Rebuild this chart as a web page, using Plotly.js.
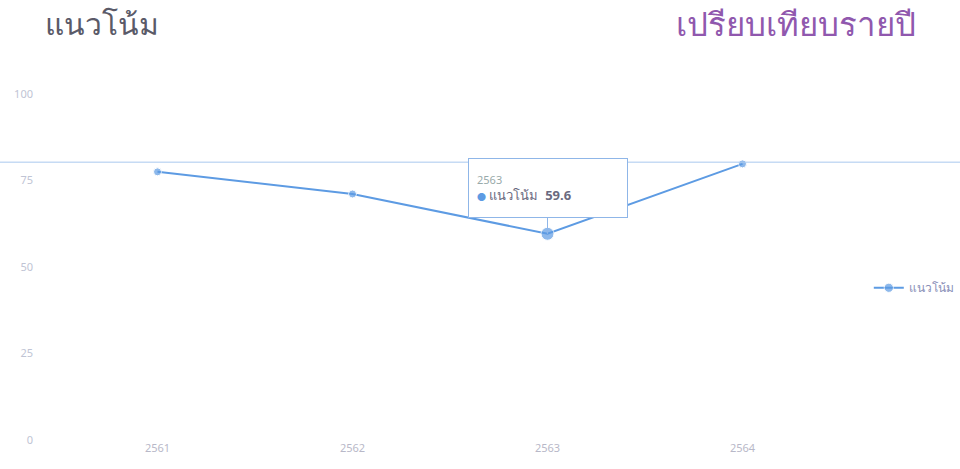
<!DOCTYPE html>
<html>
<head>
<meta charset="utf-8">
<script src="https://cdn.plot.ly/plotly-3.0.1.min.js"></script>
<style>html,body{margin:0;padding:0;background:#fff;overflow:hidden;}#chart{width:960px;height:469px;}</style>
</head>
<body>
<div id="chart"></div>
<script>
const years = ['2561', '2562', '2563', '2564'];
const trendValues = [77.5, 71.1, 59.6, 79.8];
const seriesName = 'แนวโน้ม';
const targetValue = 80.3;
const yTicks = [0, 25, 50, 75, 100];
const hoverYear = '2563';
const leftTitle = 'แนวโน้ม';
const rightTitle = 'เปรียบเทียบรายปี';

const hoverIdx = years.indexOf(hoverYear);
const lineColor = '#5d9be3';
const thaiFont = '"Noto Sans", "Noto Sans CJK SC", "DejaVu Sans", sans-serif';

const trace = {
  x: years,
  y: trendValues,
  type: 'scatter',
  mode: 'lines+markers',
  name: seriesName,
  line: {color: lineColor, width: 2},
  marker: {color: lineColor, size: years.map((y, i) => i === hoverIdx ? 13 : 8)},
  hoverinfo: 'none'
};

const layout = {
  width: 960, height: 469,
  margin: {l: 60, r: 120, t: 94, b: 29, autoexpand: false},
  paper_bgcolor: '#fff', plot_bgcolor: '#fff',
  showlegend: true,
  legend: {xref: 'container', x: 0.905, y: 0.44, xanchor: 'left', yanchor: 'middle',
           font: {family: thaiFont, size: 12, color: '#8a8fb8'}},
  xaxis: {type: 'category', range: [-0.5, 3.5], showgrid: false, zeroline: false,
          showline: false, ticks: '', tickfont: {family: thaiFont, size: 11, color: '#b8b8c8'}},
  yaxis: {range: [0, 100], tickvals: yTicks, ticktext: yTicks.map(String), showgrid: false,
          zeroline: false, showline: false, ticks: '', ticklabelstandoff: 26,
          tickfont: {family: thaiFont, size: 11, color: '#c0c4d4'}},
  shapes: [{type: 'line', xref: 'paper', yref: 'y', x0: -0.08, x1: 1.16,
            y0: targetValue, y1: targetValue, line: {color: '#a9c8ee', width: 1}}],
  annotations: [
    {xref: 'paper', yref: 'paper', x: -0.022, y: 1.205, xanchor: 'left', yanchor: 'middle',
     text: leftTitle, showarrow: false, font: {family: thaiFont, size: 30, color: '#5a5a68'}},
    {xref: 'paper', yref: 'paper', x: 1.1, y: 1.205, xanchor: 'right', yanchor: 'middle',
     text: rightTitle, showarrow: false, font: {family: thaiFont, size: 33, color: '#9058ae'}},
    {x: hoverIdx, y: trendValues[hoverIdx], xref: 'x', yref: 'y',
     text: '<span style="font-size:11px;color:#9aa">' + hoverYear + '</span><br>' +
           '<span style="color:' + lineColor + ';font-size:9px">●</span> ' + seriesName + '  <b>' + trendValues[hoverIdx] + '</b>',
     showarrow: true, arrowhead: 0, arrowcolor: '#8fb6e8', arrowwidth: 1, ax: 0, ay: -46,
     align: 'left', width: 142, height: 42, bgcolor: '#ffffff', bordercolor: '#8fb6e8', borderwidth: 1, borderpad: 8,
     font: {family: thaiFont, size: 13, color: '#6a6a80'}}
  ]
};

Plotly.newPlot('chart', [trace], layout, {displayModeBar: false, staticPlot: true});
</script>
</body>
</html>
